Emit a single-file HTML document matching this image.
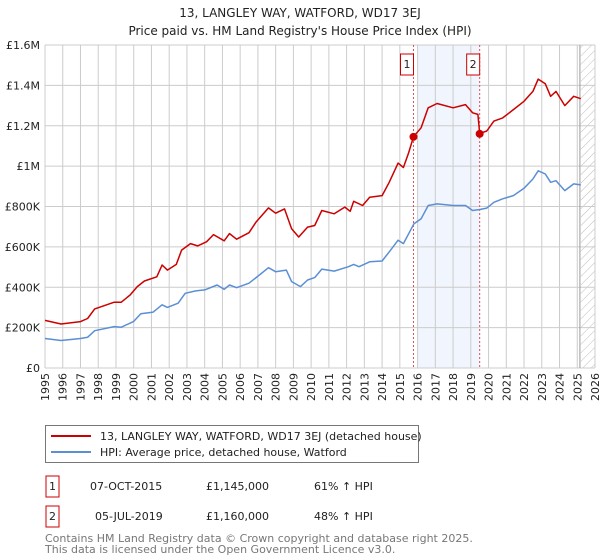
<!DOCTYPE html>
<html><head><meta charset="utf-8"><style>
body{margin:0;background:#fff;font-family:"Liberation Sans","DejaVu Sans",sans-serif;}
svg{display:block}
</style></head><body>
<svg width="600" height="560" font-family="DejaVu Sans, Liberation Sans, sans-serif">
<text x="300" y="17" text-anchor="middle" font-size="12" fill="#222">13, LANGLEY WAY, WATFORD, WD17 3EJ</text>
<text x="300" y="35" text-anchor="middle" font-size="12" fill="#222">Price paid vs. HM Land Registry's House Price Index (HPI)</text>
<g id="plot"></g>
<g>
<rect x="45.5" y="425.5" width="373" height="37" fill="#fff" stroke="#777"/>
<line x1="51" y1="436" x2="91" y2="436" stroke="#cc0000" stroke-width="2"/>
<text x="100" y="440" font-size="11" fill="#222">13, LANGLEY WAY, WATFORD, WD17 3EJ (detached house)</text>
<line x1="51" y1="452" x2="91" y2="452" stroke="#5b8fd4" stroke-width="2"/>
<text x="100" y="456" font-size="11" fill="#222">HPI: Average price, detached house, Watford</text>
</g>
<g font-size="11" fill="#222">
<rect x="46" y="476" width="13" height="21" fill="#fff" stroke="#cc0000"/>
<text x="52.5" y="490" text-anchor="middle">1</text>
<text x="90" y="490">07-OCT-2015</text><text x="206" y="490">£1,145,000</text><text x="314" y="490">61% ↑ HPI</text>
<rect x="46" y="506" width="13" height="21" fill="#fff" stroke="#cc0000"/>
<text x="52.5" y="520" text-anchor="middle">2</text>
<text x="95" y="520">05-JUL-2019</text><text x="206" y="520">£1,160,000</text><text x="314" y="520">48% ↑ HPI</text>
</g>
<text x="45" y="542" font-size="11" fill="#777">Contains HM Land Registry data © Crown copyright and database right 2025.</text>
<text x="45" y="553" font-size="11" fill="#777">This data is licensed under the Open Government Licence v3.0.</text>
</svg>
<script>
const priceYears=[1995,1995.9,1997,1997.4,1997.8,1998.9,1999.3,1999.8,2000.2,2000.6,2001.3,2001.6,2001.9,2002.4,2002.7,2003.2,2003.6,2004.1,2004.5,2005.1,2005.4,2005.8,2006.5,2006.9,2007.6,2008.0,2008.5,2008.9,2009.3,2009.8,2010.2,2010.6,2011.3,2011.9,2012.2,2012.4,2012.9,2013.3,2014.0,2014.4,2014.9,2015.2,2015.5,2015.77,2016.2,2016.6,2017.1,2018.0,2018.7,2019.1,2019.4,2019.5,2019.9,2020.3,2020.8,2021.4,2022.0,2022.5,2022.8,2023.2,2023.5,2023.8,2024.3,2024.8,2025.2];
const priceValues=[236,218,230,245,293,326,326,362,403,431,452,510,485,513,584,616,605,625,661,630,666,638,670,723,793,767,788,690,649,698,706,780,764,797,776,826,805,846,854,920,1015,993,1067,1146,1190,1289,1310,1289,1305,1264,1256,1162,1174,1223,1239,1280,1321,1370,1431,1408,1346,1370,1300,1346,1334];
const hpiYears=[1995,1995.9,1997,1997.4,1997.8,1998.9,1999.3,2000.0,2000.4,2001.1,2001.6,2001.9,2002.5,2002.9,2003.5,2004.0,2004.7,2005.1,2005.4,2005.8,2006.5,2006.9,2007.6,2008.0,2008.6,2008.9,2009.4,2009.8,2010.2,2010.6,2011.3,2012.1,2012.4,2012.7,2013.3,2014.0,2014.4,2014.9,2015.2,2015.8,2016.2,2016.6,2017.1,2018.0,2018.7,2019.1,2019.5,2019.9,2020.3,2020.8,2021.4,2022.0,2022.5,2022.8,2023.2,2023.5,2023.8,2024.3,2024.8,2025.2];
const hpiValues=[146,136,146,152,185,205,202,231,269,277,313,300,321,370,382,387,411,390,411,398,420,448,497,477,485,428,403,436,448,490,480,502,513,502,526,530,575,633,616,715,739,805,813,805,805,780,785,792,821,838,854,890,936,977,961,920,928,879,912,907];
const saleYears=[2015.77,2019.5];
const saleValues=[1145,1160];
const saleLabels=["1","2"];
const yTicks=[0,200,400,600,800,1000,1200,1400,1600];
const yTickLabels=["£0","£200K","£400K","£600K","£800K","£1M","£1.2M","£1.4M","£1.6M"];
const xTicks=[];for(let y=1995;y<=2026;y++)xTicks.push(y);

const L=45,R=595,T=45,B=368,X0=1995,X1=2026,YMAX=1600;
const xs=v=>L+(v-X0)/(X1-X0)*(R-L);
const ys=v=>B-v/YMAX*(B-T);
const NS="http://www.w3.org/2000/svg";
const g=document.getElementById('plot');
function mk(tag,attrs,parent){const e=document.createElementNS(NS,tag);for(const k in attrs)e.setAttribute(k,attrs[k]);(parent||g).appendChild(e);return e;}

const sh=mk('rect',{x:xs(2016.0),y:T,width:xs(saleYears[1])-xs(2016.0),height:B-T,fill:'#eef3fc',opacity:0.8});


const defs=mk('defs',{});
const pat=mk('pattern',{id:'hatch',width:6,height:6,patternUnits:'userSpaceOnUse',patternTransform:'rotate(45)'},defs);
mk('line',{x1:0,y1:0,x2:0,y2:6,stroke:'#bbb','stroke-width':1},pat);
const ht=mk('rect',{x:xs(2025.2),y:T,width:R-xs(2025.2),height:B-T,fill:'url(#hatch)'});


xTicks.forEach(t=>{const l=mk('line',{x1:xs(t),x2:xs(t),y1:T,y2:B,stroke:'#ccc','stroke-width':1});


const tx=mk('text',{x:0,y:0,'font-size':11,fill:'#222','text-anchor':'end',transform:`translate(${xs(t)+4},${B+5}) rotate(-90)`});tx.textContent=t;

});
yTicks.forEach((t,i)=>{const l=mk('line',{x1:L,x2:R,y1:ys(t),y2:ys(t),stroke:'#ccc','stroke-width':1});


const tx=mk('text',{x:L-5,y:ys(t)+4,'font-size':11,fill:'#222','text-anchor':'end'});tx.textContent=yTickLabels[i];

});
const vl=mk('line',{x1:xs(2025.15),x2:xs(2025.15),y1:T,y2:B,stroke:'#999','stroke-width':1});


saleYears.forEach((s,i)=>{const l=mk('line',{x1:xs(s),x2:xs(s),y1:T,y2:B,stroke:'#e05050','stroke-width':1,'stroke-dasharray':'2,2'});


const bx=mk('rect',{x:xs(s)-13,y:T+9,width:13,height:21,fill:'#fff',stroke:'#cc0000'});


const tx=mk('text',{x:xs(s)-6.5,y:T+23,'font-size':11,fill:'#222','text-anchor':'middle'});tx.textContent=saleLabels[i];

});
function line(xa,va,color,name){const d=xa.map((x,i)=>(i?'L':'M')+xs(x).toFixed(1)+','+ys(va[i]).toFixed(1)).join('');
const p=mk('path',{d,fill:'none',stroke:color,'stroke-width':1.5,'stroke-linejoin':'round'});

}
line(hpiYears,hpiValues,'#5b8fd4','hpi-line');
line(priceYears,priceValues,'#cc0000','price-line');
saleYears.forEach((s,i)=>{const c=mk('circle',{cx:xs(s),cy:ys(saleValues[i]),r:4,fill:'#cc0000'});

});
</script>
</body></html>
